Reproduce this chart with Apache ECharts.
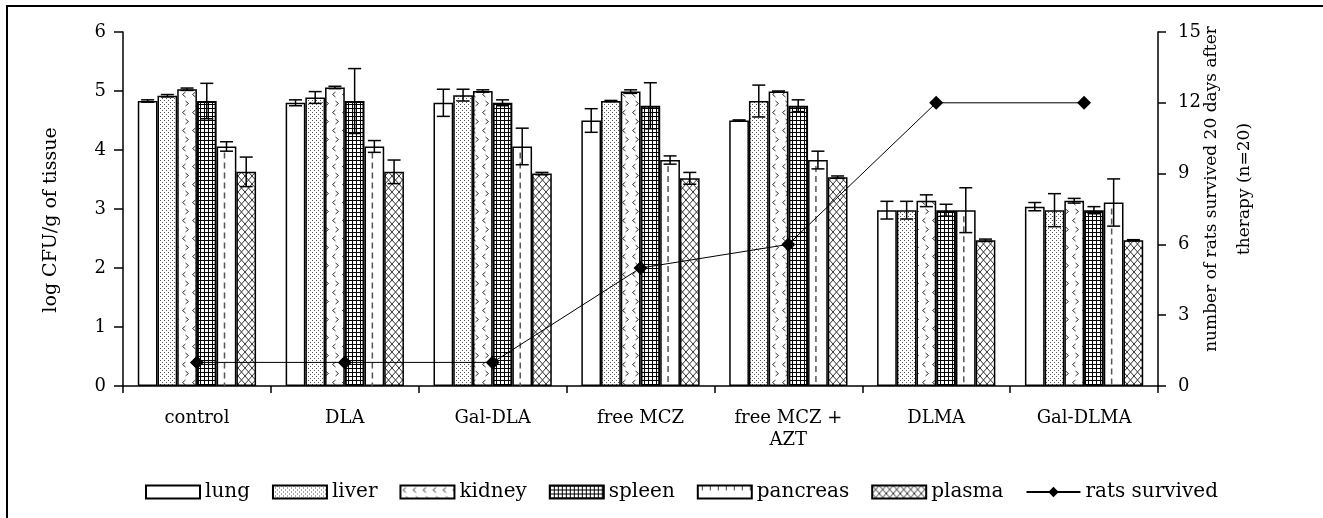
<!DOCTYPE html>
<html>
<head>
<meta charset="utf-8">
<script src="https://cdn.jsdelivr.net/npm/echarts@6/dist/echarts.min.js"></script>
<style>
  html, body { margin: 0; padding: 0; background: #fff; }
  #chart { width: 1323px; height: 518px; }
</style>
</head>
<body>
<div id="chart"></div>
<script>
// Treatment groups on the category axis
const categories = ['control', 'DLA', 'Gal-DLA', 'free MCZ', 'free MCZ +\nAZT', 'DLMA', 'Gal-DLMA'];

// log CFU/g of tissue (mean) and error (±) per tissue
const lung        = [4.83, 4.80, 4.80, 4.50, 4.50, 2.98, 3.04];
const lungErr     = [0.02, 0.05, 0.23, 0.20, 0.01, 0.15, 0.07];
const liver       = [4.92, 4.89, 4.93, 4.83, 4.83, 2.98, 2.98];
const liverErr    = [0.02, 0.10, 0.10, 0.01, 0.27, 0.15, 0.28];
const kidney      = [5.03, 5.06, 5.00, 4.99, 4.99, 3.14, 3.14];
const kidneyErr   = [0.02, 0.02, 0.02, 0.03, 0.01, 0.10, 0.04];
const spleen      = [4.83, 4.83, 4.80, 4.75, 4.75, 2.98, 2.98];
const spleenErr   = [0.30, 0.55, 0.05, 0.39, 0.10, 0.10, 0.06];
const pancreas    = [4.06, 4.06, 4.06, 3.83, 3.83, 2.98, 3.11];
const pancreasErr = [0.08, 0.10, 0.31, 0.07, 0.15, 0.38, 0.40];
const plasma      = [3.63, 3.63, 3.60, 3.52, 3.54, 2.47, 2.47];
const plasmaErr   = [0.25, 0.20, 0.02, 0.10, 0.02, 0.02, 0.01];

// number of rats survived 20 days after therapy (n=20)
const ratsSurvived = [1, 1, 1, 5, 6, 12, 12];

// Axis ticks
const leftTicks  = { min: 0, max: 6, interval: 1 };
const rightTicks = { min: 0, max: 15, interval: 3 };

const FONT = 'DejaVu Serif';

// ---- fill patterns ----
function makePattern(w, h, draw) {
  const c = document.createElement('canvas');
  c.width = w; c.height = h;
  const ctx = c.getContext('2d');
  ctx.fillStyle = '#fff';
  ctx.fillRect(0, 0, w, h);
  draw(ctx);
  return { image: c, repeat: 'repeat' };
}
const dotFill = makePattern(4, 4, ctx => {
  ctx.fillStyle = '#555';
  ctx.fillRect(0, 0, 1, 1);
  ctx.fillRect(2, 2, 1, 1);
});
const chevronFill = makePattern(10, 18, ctx => {
  ctx.strokeStyle = '#333';
  ctx.lineWidth = 1;
  ctx.beginPath();
  ctx.moveTo(5.5, 2); ctx.lineTo(2.5, 4.5); ctx.lineTo(5.5, 7);
  ctx.moveTo(5.5, 11); ctx.lineTo(8.5, 13.5); ctx.lineTo(5.5, 16);
  ctx.stroke();
});
const gridFill = makePattern(4, 4, ctx => {
  ctx.fillStyle = '#000';
  ctx.fillRect(0, 0, 4, 1);
  ctx.fillRect(0, 0, 1, 4);
});
const crossFill = makePattern(7, 8, ctx => {
  ctx.strokeStyle = '#333';
  ctx.lineWidth = 1;
  ctx.beginPath();
  ctx.moveTo(0, 0); ctx.lineTo(7, 8);
  ctx.moveTo(7, 0); ctx.lineTo(0, 8);
  ctx.stroke();
});
const dashIconFill = makePattern(8, 13, ctx => {
  ctx.fillStyle = '#444';
  ctx.fillRect(4, 0, 1, 5);
});

const tissues = [
  { name: 'lung',     data: lung,     err: lungErr,     fill: '#fff',      border: 1.5 },
  { name: 'liver',    data: liver,    err: liverErr,    fill: dotFill,     border: 1.5 },
  { name: 'kidney',   data: kidney,   err: kidneyErr,   fill: chevronFill, border: 1.5 },
  { name: 'spleen',   data: spleen,   err: spleenErr,   fill: gridFill,    border: 2 },
  { name: 'pancreas', data: pancreas, err: pancreasErr, fill: '#fff',      border: 1.5 },
  { name: 'plasma',   data: plasma,   err: plasmaErr,   fill: crossFill,   border: 1.5 }
];
const NB = tissues.length;
const GROUP_FRACTION = 0.8; // matches barCategoryGap 20%

const barSeries = tissues.map(t => ({
  name: t.name,
  type: 'bar',
  barGap: '0%',
  barCategoryGap: '20%',
  data: t.data,
  itemStyle: { color: t.fill, borderColor: '#000', borderWidth: t.border },
  emphasis: { disabled: true },
  z: 2
}));

// error bars: [category, tissue index, mean, error]
const errData = [];
tissues.forEach((t, s) => t.data.forEach((v, i) => errData.push([i, s, v, t.err[i]])));

function barCenterX(api, cat, val, s) {
  const c = api.coord([cat, val]);
  const bw = api.size([1, 0])[0] * GROUP_FRACTION / NB;
  return { x: c[0] + (s - (NB - 1) / 2) * bw, y: c[1], bw: bw };
}

const errSeries = {
  name: 'error',
  type: 'custom',
  data: errData,
  z: 3,
  silent: true,
  renderItem: function (params, api) {
    const cat = api.value(0), s = api.value(1), v = api.value(2), e = api.value(3);
    const p = barCenterX(api, cat, v, s);
    const yTop = api.coord([cat, v + e])[1];
    const yBot = api.coord([cat, v - e])[1];
    const cap = 6.5;
    const st = { stroke: '#000', lineWidth: 1.5 };
    return {
      type: 'group',
      children: [
        { type: 'line', shape: { x1: p.x, y1: yTop, x2: p.x, y2: yBot }, style: st },
        { type: 'line', shape: { x1: p.x - cap, y1: yTop, x2: p.x + cap, y2: yTop }, style: st },
        { type: 'line', shape: { x1: p.x - cap, y1: yBot, x2: p.x + cap, y2: yBot }, style: st }
      ]
    };
  }
};

// dashed centre line that marks the pancreas bars
const PANCREAS = 4;
const pancreasDashes = {
  name: 'pancreas-dash',
  type: 'custom',
  data: pancreas.map((v, i) => [i, v]),
  z: 2.5,
  silent: true,
  renderItem: function (params, api) {
    const cat = api.value(0), v = api.value(1);
    const p = barCenterX(api, cat, v, PANCREAS);
    const base = api.coord([cat, 0])[1];
    return {
      type: 'line',
      shape: { x1: p.x - 2, y1: p.y + 6, x2: p.x - 2, y2: base },
      style: { stroke: '#555', lineWidth: 1.5, lineDash: [6, 4] }
    };
  }
};

const ratsSeries = {
  name: 'rats survived',
  type: 'line',
  yAxisIndex: 1,
  data: ratsSurvived,
  symbol: 'diamond',
  symbolSize: 14,
  lineStyle: { color: '#000', width: 1 },
  itemStyle: { color: '#000' },
  emphasis: { disabled: true },
  z: 5
};

const chart = echarts.init(document.getElementById('chart'), null, { renderer: 'canvas' });
chart.setOption({
  animation: false,
  backgroundColor: '#fff',
  textStyle: { fontFamily: FONT, color: '#000' },
  grid: { left: 123, right: 165, top: 32, bottom: 132 },
  graphic: [{
    type: 'rect',
    shape: { x: 7, y: 6, width: 1400, height: 600 },
    style: { fill: 'none', stroke: '#000', lineWidth: 2 },
    silent: true
  }],
  legend: {
    left: 140,
    top: 477,
    itemWidth: 54,
    itemHeight: 13,
    itemGap: 22,
    textStyle: { fontFamily: FONT, fontSize: 20, color: '#000' },
    data: [
      { name: 'lung', icon: 'rect' },
      { name: 'liver', icon: 'rect' },
      { name: 'kidney', icon: 'rect' },
      { name: 'spleen', icon: 'rect' },
      { name: 'pancreas', icon: 'rect', itemStyle: { color: dashIconFill } },
      { name: 'plasma', icon: 'rect' },
      { name: 'rats survived' }
    ]
  },
  xAxis: {
    type: 'category',
    data: categories,
    axisLine: { lineStyle: { color: '#000', width: 1.5 } },
    axisTick: { show: true, length: 7, lineStyle: { color: '#000', width: 1.5 } },
    axisLabel: { fontFamily: FONT, fontSize: 18, color: '#000', margin: 21, lineHeight: 22 }
  },
  yAxis: [{
    type: 'value',
    min: leftTicks.min, max: leftTicks.max, interval: leftTicks.interval,
    name: 'log CFU/g of tissue',
    nameLocation: 'middle',
    nameGap: 62,
    nameRotate: 90,
    nameMoveOverlap: false,
    nameTextStyle: { fontFamily: FONT, fontSize: 19, color: '#000', padding: [0, 22, 0, 0] },
    axisLine: { show: true, lineStyle: { color: '#000', width: 1.5 } },
    axisTick: { show: true, length: 9, lineStyle: { color: '#000', width: 1.5 } },
    axisLabel: { fontFamily: FONT, fontSize: 18, color: '#000', margin: 17 },
    splitLine: { show: false }
  }, {
    type: 'value',
    position: 'right',
    min: rightTicks.min, max: rightTicks.max, interval: rightTicks.interval,
    name: 'number of rats survived 20 days after\ntherapy (n=20)',
    nameLocation: 'middle',
    nameGap: 37,
    nameRotate: 90,
    nameMoveOverlap: false,
    nameTextStyle: { fontFamily: FONT, fontSize: 17, color: '#000', lineHeight: 33, padding: [0, 0, 0, 40] },
    axisLine: { show: true, lineStyle: { color: '#000', width: 1.5 } },
    axisTick: { show: true, length: 8, lineStyle: { color: '#000', width: 1.5 } },
    axisLabel: { fontFamily: FONT, fontSize: 18, color: '#000', margin: 20 },
    splitLine: { show: false }
  }],
  series: barSeries.concat([pancreasDashes, errSeries, ratsSeries])
});
</script>
</body>
</html>
